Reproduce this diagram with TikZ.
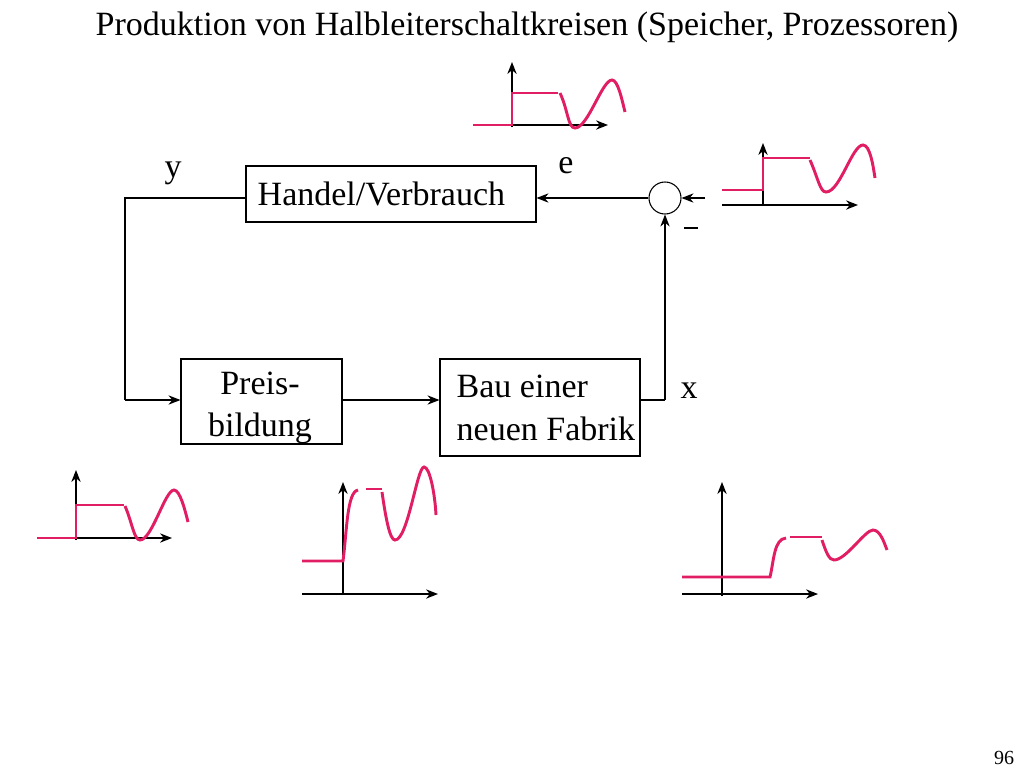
\documentclass[tikz,border=0pt]{standalone}
\usepackage{fontspec}
\setmainfont{Liberation Serif}
\usetikzlibrary{arrows.meta}
\definecolor{sig}{RGB}{225,30,100}
\begin{document}
\begin{tikzpicture}[x=0.75pt,y=-0.75pt,
  box/.style={draw,line width=0.8pt,minimum height=0pt},
  conn/.style={line width=0.9pt,-{Stealth[length=9pt,width=7pt]}},
  axis/.style={line width=0.9pt,-{Stealth[length=9pt,width=7pt]}},
  sg/.style={sig,line width=2.2pt},
  txt/.style={font=\fontsize{25.5}{26}\selectfont}]
\useasboundingbox (0,0) rectangle (1024,768);
\node[txt] (title) at (527,27) {Produktion von Halbleiterschaltkreisen (Speicher, Prozessoren)};
\node[box,minimum width=217.5pt,minimum height=42pt] (hv) at (391,194) {};
\node[txt,anchor=west] (hvt) at (253,194) {Handel/Verbrauch};
\node[box,minimum width=120.75pt,minimum height=63.75pt] (pb) at (261.5,401.5) {};
\node[txt,align=center] (pbt) at (260,408) {Preis-\\[6pt]bildung};
\node[box,minimum width=150pt,minimum height=72.75pt] (bau) at (540,407.5) {};
\node[txt,align=left,anchor=west] (baut) at (452,408) {Bau einer\\[6pt]neuen Fabrik};
\node[draw,circle,line width=0.8pt,minimum size=24pt,inner sep=0] (sum) at (665,198) {};
\coordinate (c1) at (125,198);
\coordinate (c2) at (125,400);
\coordinate (c3) at (665,400);
\coordinate (inp) at (705,198);
\draw[line width=0.9pt] (hv.west |- c1) -- (c1) -- (c2);
\draw[conn] (c2) -- (pb.west |- c2);
\draw[conn] (pb.east |- c2) -- (bau.west |- c2);
\draw[line width=0.9pt] (bau.east |- c3) -- (c3);
\draw[conn] (c3) -- (sum.south);
\draw[conn] (sum.west) -- (hv.east |- sum);
\draw[conn] (inp) -- (sum.east);
\draw[line width=2pt] (684,228) coordinate (m1) -- (698,228) coordinate (m2);
\node[txt] (ly) at (173,173) {y};
\node[txt] (le) at (566,166) {e};
\node[txt] (lx) at (689,391) {x};
\node[font=\fontsize{15}{16}\selectfont] (pg) at (1004,758) {96};
% graph 1
\draw[axis] (512,127) -- (512,62);
\draw[axis] (512,125) -- (608,125);
\draw[sg] (473,125) -- (512,125) -- (512,93) -- (558,93);
\draw[sg] (560,93) .. controls (568,110) and (568,128) .. (575,128) .. controls (588,128) and (602,80) .. (612,80) .. controls (618,80) and (622,100) .. (625,112);
% graph 2
\draw[axis] (763,206) -- (763,143);
\draw[axis] (722,205) -- (858,205);
\draw[sg] (722,190) -- (763,190) -- (763,158) -- (810,158);
\draw[sg] (810,160) .. controls (818,178) and (820,192) .. (826,192) .. controls (840,192) and (852,145) .. (863,145) .. controls (870,145) and (873,165) .. (875,178);
% graph 3
\draw[axis] (76,540) -- (76,470);
\draw[axis] (76,538) -- (172,538);
\draw[sg] (37,538) -- (76,538) -- (76,505) -- (124,505);
\draw[sg] (125,506) .. controls (132,522) and (134,540) .. (140,540) .. controls (152,540) and (165,490) .. (174,490) .. controls (180,490) and (185,510) .. (188,522);
% graph 4
\draw[axis] (343,595) -- (343,482);
\draw[axis] (302,594) -- (438,594);
\draw[sg] (302,561) -- (343,561) .. controls (347,530) and (347,492) .. (358,490);
\draw[sg] (366,489) -- (382,489);
\draw[sg] (382,492) .. controls (386,520) and (390,540) .. (395,540) .. controls (408,540) and (417,467) .. (424,467) .. controls (430,467) and (435,495) .. (436,515);
% graph 5
\draw[axis] (722,596) -- (722,482);
\draw[axis] (682,594) -- (818,594);
\draw[sg] (682,577) -- (770,577) .. controls (774,560) and (774,539) .. (786,538);
\draw[sg] (790,537) -- (822,537);
\draw[sg] (822,540) .. controls (826,552) and (829,560) .. (834,560) .. controls (846,560) and (865,530) .. (873,530) .. controls (880,530) and (884,542) .. (887,550);
\end{tikzpicture}
\end{document}
